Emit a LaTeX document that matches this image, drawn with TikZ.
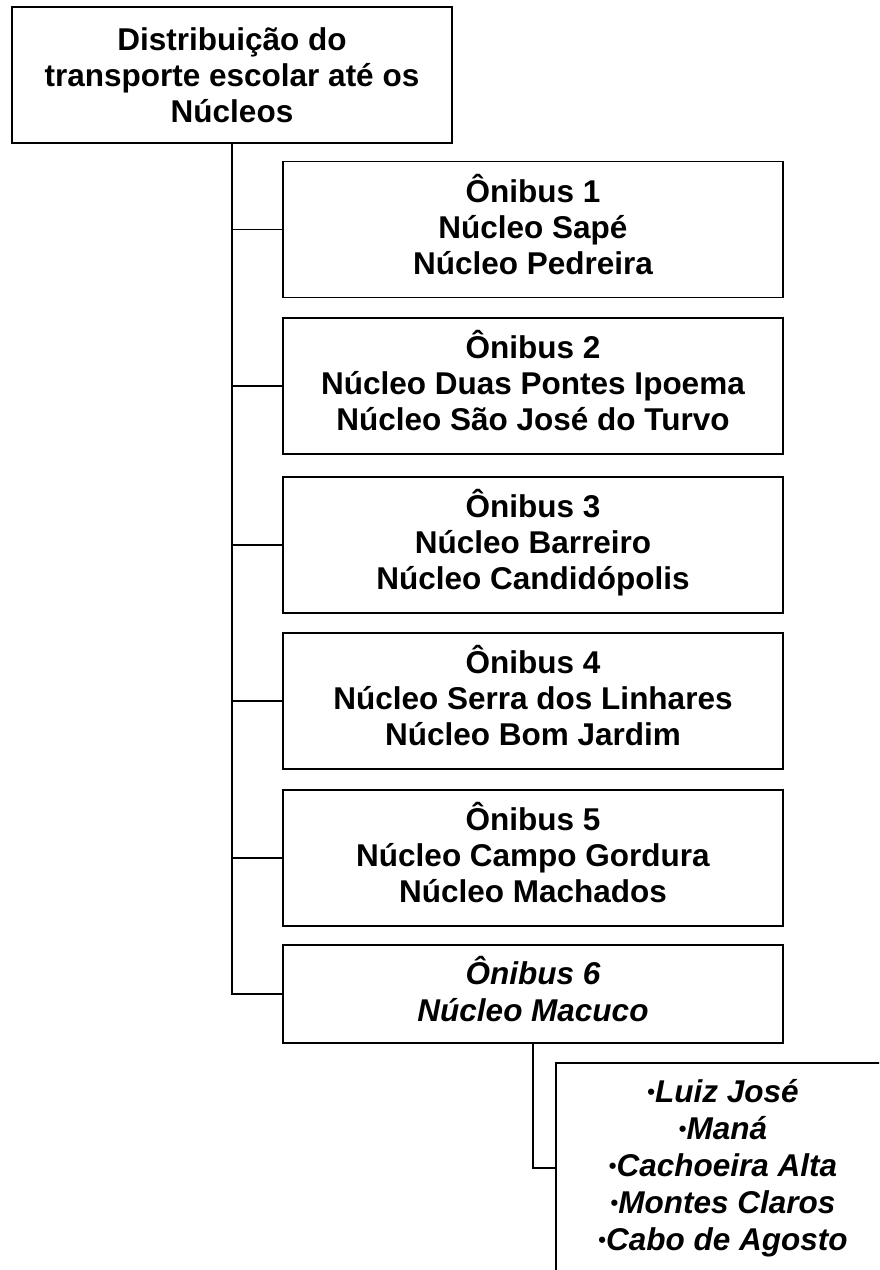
\documentclass[tikz,border=0pt]{standalone}
\usepackage{fontspec}
\setmainfont{Liberation Sans}
\usetikzlibrary{positioning}
\newcommand{\marca}{\raisebox{3pt}{\fontsize{22}{22}\selectfont\upshape•}}
\tikzset{
  caixa/.style  = {rectangle, draw=black, line width=1.5pt, align=center,
                   inner sep=0pt, font=\fontsize{31.5}{36}\selectfont\bfseries},
  onib/.style   = {caixa, minimum width=500pt, minimum height=136pt},
  sub/.style    = {caixa, font=\fontsize{31.5}{37}\selectfont\bfseries\itshape},
  lig/.style    = {draw=black, line width=1.5pt},
  tronco/.style = {lig, line width=2pt},
}

\begin{document}
\begin{tikzpicture}[x=1pt, y=-1pt]
  \clip (0,0) rectangle (879,1270);
  \fill[white] (0,0) rectangle (879,1270);

  % ---- topo ----
  \node[caixa, minimum width=440pt, minimum height=136pt] (titulo) at (232,75)
    {Distribuição do\\transporte escolar até os\\Núcleos};

  % ---- os seis ônibus ----
  \node[onib] (onib1) at (533,229.5)
    {\strut Ônibus 1\\Núcleo Sapé\\Núcleo Pedreira\strut};
  \node[onib] (onib2) at (533,386)
    {\strut Ônibus 2\\Núcleo Duas Pontes Ipoema\\Núcleo São José do Turvo\strut};
  \node[onib] (onib3) at (533,545)
    {\strut Ônibus 3\\Núcleo Barreiro\\Núcleo Candidópolis\strut};
  \node[onib] (onib4) at (533,701)
    {\strut Ônibus 4\\Núcleo Serra dos Linhares\\Núcleo Bom Jardim\strut};
  \node[onib] (onib5) at (533,858)
    {\strut Ônibus 5\\Núcleo Campo Gordura\\Núcleo Machados\strut};
  \node[onib, minimum height=98pt, font=\fontsize{31.5}{37}\selectfont\bfseries\itshape] (onib6) at (533,994)
    {\strut Ônibus 6\\Núcleo Macuco\strut};

  % ---- localidades do Macuco ----
  \node[sub, minimum width=334pt, minimum height=210pt] (nucleos) at (723,1168)
    {\marca Luiz José\\\marca Maná\\\marca Cachoeira Alta\\\marca Montes Claros\\\marca Cabo de Agosto};

  % ---- ligações ----
  \draw[tronco] (titulo.south) |- (onib6.west);
  \foreach \i in {1,...,5}
    \draw[lig] (titulo.south |- onib\i.west) -- (onib\i.west);
  \draw[lig] (onib6.south) |- (nucleos.west);
\end{tikzpicture}
\end{document}
